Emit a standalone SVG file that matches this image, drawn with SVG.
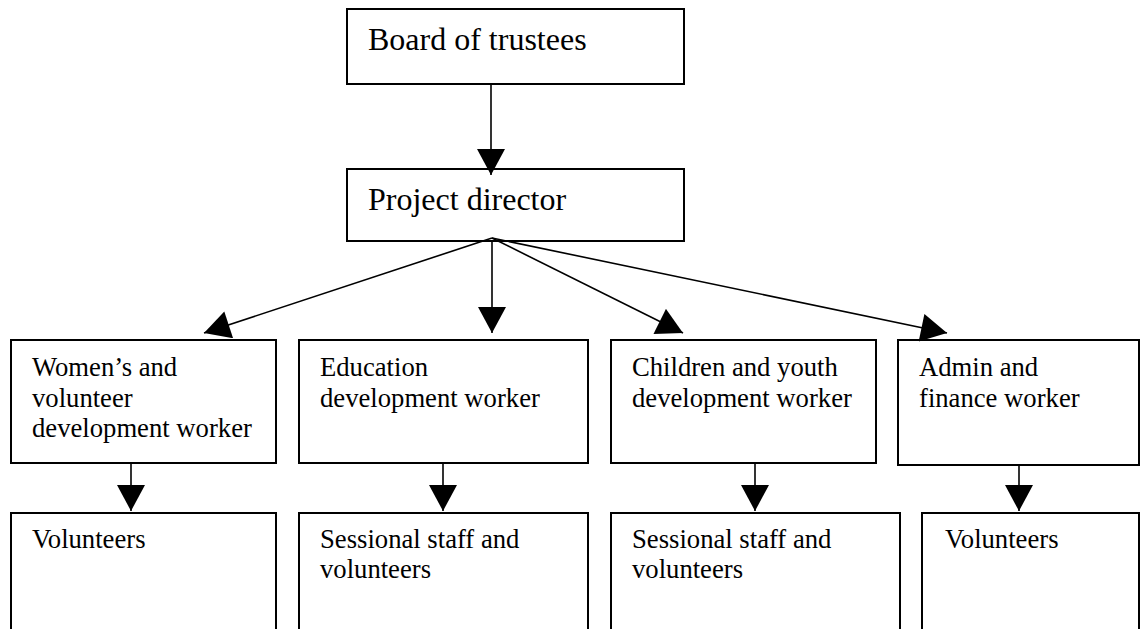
<svg xmlns="http://www.w3.org/2000/svg" width="1140" height="629" viewBox="0 0 1140 629">
<style>
.box{fill:#fff;stroke:#000;stroke-width:2}
.lbl{font-family:"Liberation Serif","Times New Roman",serif;font-size:26.67px;fill:#000}
.big{font-size:32px}
.con{stroke:#000;stroke-width:1.6;fill:none;marker-end:url(#ah)}
</style>
<defs>
<marker id="ah" markerUnits="userSpaceOnUse" markerWidth="28" markerHeight="28" viewBox="0 0 26 28" refX="26" refY="14" orient="auto">
<path d="M0,0 L26,14 L0,28 z" fill="#000"/>
</marker>
</defs>
<rect x="0" y="0" width="1140" height="629" fill="#fff"/>
<g id="board"><rect class="box" x="347" y="9" width="337" height="75"/><text class="lbl big" x="368" y="50">Board of trustees</text></g>
<g id="director"><rect class="box" x="347" y="169" width="337" height="72"/><text class="lbl big" x="368" y="210">Project director</text></g>
<g id="women"><rect class="box" x="11" y="340" width="265" height="123"/><text class="lbl" x="32" y="376">Women’s and</text><text class="lbl" x="32" y="407">volunteer</text><text class="lbl" x="32" y="437">development worker</text></g>
<g id="education"><rect class="box" x="299" y="340" width="289" height="123"/><text class="lbl" x="320" y="376">Education</text><text class="lbl" x="320" y="407">development worker</text></g>
<g id="children"><rect class="box" x="611" y="340" width="265" height="123"/><text class="lbl" x="632" y="376">Children and youth</text><text class="lbl" x="632" y="407">development worker</text></g>
<g id="admin"><rect class="box" x="898" y="340" width="241" height="125"/><text class="lbl" x="919" y="376">Admin and</text><text class="lbl" x="919" y="407">finance worker</text></g>
<g id="volunteers1"><rect class="box" x="11" y="513" width="265" height="150"/><text class="lbl" x="32" y="548">Volunteers</text></g>
<g id="sessional1"><rect class="box" x="299" y="513" width="289" height="150"/><text class="lbl" x="320" y="548">Sessional staff and</text><text class="lbl" x="320" y="578">volunteers</text></g>
<g id="sessional2"><rect class="box" x="611" y="513" width="289" height="150"/><text class="lbl" x="632" y="548">Sessional staff and</text><text class="lbl" x="632" y="578">volunteers</text></g>
<g id="volunteers2"><rect class="box" x="922" y="513" width="217" height="150"/><text class="lbl" x="945" y="548">Volunteers</text></g>
<g id="connectors">
<line class="con" x1="491" y1="84" x2="491" y2="175"/>
<line class="con" x1="492" y1="238" x2="204" y2="333"/>
<line class="con" x1="492" y1="241" x2="492" y2="333"/>
<line class="con" x1="492" y1="238" x2="683" y2="333"/>
<line class="con" x1="492" y1="238" x2="947" y2="333"/>
<line class="con" x1="131" y1="463" x2="131" y2="511"/>
<line class="con" x1="443" y1="463" x2="443" y2="511"/>
<line class="con" x1="755" y1="463" x2="755" y2="511"/>
<line class="con" x1="1019" y1="465" x2="1019" y2="511"/>
</g>
</svg>
